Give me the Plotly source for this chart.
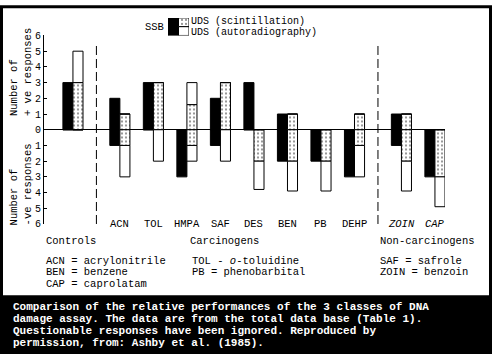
import plotly.graph_objects as go

# ---------------- data ----------------
categories = ["Controls", "ACN", "TOL", "HMPA", "SAF", "DES", "BEN", "PB", "DEHP", "ZOIN", "CAP"]
cat_labels = ["", "ACN", "TOL", "HMPA", "SAF", "DES", "BEN", "PB", "DEHP", "<i>ZOIN</i>", "<i>CAP</i>"]
groups = ["ctrl", "carc", "carc", "carc", "carc", "carc", "carc", "carc", "carc", "non", "non"]

ssb_pos = [3, 2, 3, 0, 2, 3, 1, 0, 0, 1, 0]
ssb_neg = [0, 1, 0, 3, 1, 0, 2, 2, 3, 1, 3]
uds_scint_pos = [3, 1, 3, 1.6, 3, 0, 1, 0, 1, 1, 0]
uds_auto_pos = [2, 0, 0, 1.4, 0, 0, 0, 0, 0, 0, 0]      # segment stacked above scintillation
uds_scint_neg = [0, 1, 0, 1, 0, 2, 2, 2, 1, 2, 3]
uds_auto_neg = [0, 2, 2, 1, 2, 1.8, 1.9, 1.9, 2, 1.9, 1.9]  # segment stacked below scintillation

y_ticks = [-6, -5, -4, -3, -2, -1, 0, 1, 2, 3, 4, 5, 6]

caption_lines = [
    "Comparison of the relative performances of the 3 classes of DNA",
    "damage assay. The data are from the total data base (Table 1).",
    "Questionable responses have been ignored. Reproduced by",
    "permission, from: Ashby et al. (1985).",
]

# ---------------- layout helpers ----------------
W, H = 492, 357
ML, MR, MT, MB = 44, 47, 8, 133
PW, PH = W - ML - MR, H - MT - MB
GAP = 0.4
BW = 0.3

pos = []
extra = 0.0
for i, g in enumerate(groups):
    if i > 0 and g != groups[i - 1]:
        extra += GAP
    pos.append(i + extra)

ssb_x = [p - BW / 2 for p in pos]
uds_x = [p + BW / 2 for p in pos]


def px(x):
    return (x - ML) / PW


def py(y):
    return (H - MB - y) / PH


FONT = "Liberation Mono"
line = dict(color="black", width=1)
dots = dict(shape=".", fgcolor="black", bgcolor="white", size=4, solidity=0.22)

fig = go.Figure()

# SSB
fig.add_trace(go.Bar(x=ssb_x, y=ssb_pos, base=0, width=BW,
                     marker=dict(color="black", line=line)))
fig.add_trace(go.Bar(x=ssb_x, y=[-v for v in ssb_neg], base=0, width=BW,
                     marker=dict(color="black", line=line)))
# UDS scintillation
fig.add_trace(go.Bar(x=uds_x, y=uds_scint_pos, base=0, width=BW,
                     marker=dict(color="white", line=line, pattern=dots)))
fig.add_trace(go.Bar(x=uds_x, y=[-v for v in uds_scint_neg], base=0, width=BW,
                     marker=dict(color="white", line=line, pattern=dots)))
# UDS autoradiography (stacked)
fig.add_trace(go.Bar(x=uds_x, y=uds_auto_pos, base=uds_scint_pos, width=BW,
                     marker=dict(color="white", line=line)))
fig.add_trace(go.Bar(x=uds_x, y=[-v for v in uds_auto_neg],
                     base=[-v for v in uds_scint_neg], width=BW,
                     marker=dict(color="white", line=line)))

# legend swatches on a small auxiliary axis
fig.add_trace(go.Bar(x=[0], y=[2], base=[0], width=1, xaxis="x2", yaxis="y2",
                     marker=dict(color="black", line=line)))
fig.add_trace(go.Bar(x=[1], y=[1], base=[1], width=1, xaxis="x2", yaxis="y2",
                     marker=dict(color="white", line=line, pattern=dots)))
fig.add_trace(go.Bar(x=[1], y=[1], base=[0], width=1, xaxis="x2", yaxis="y2",
                     marker=dict(color="white", line=line)))

x_lo = -29 / 33.57
x_hi = pos[-1] + BW
top_dom = py(31)

fig.update_layout(
    width=W, height=H,
    margin=dict(l=ML, r=MR, t=MT, b=MB, pad=0),
    paper_bgcolor="white", plot_bgcolor="rgba(0,0,0,0)",
    barmode="overlay", showlegend=False,
    font=dict(family=FONT, size=10, color="black"),
    xaxis=dict(range=[x_lo, x_hi], visible=False, domain=[0, 1]),
    yaxis=dict(range=[-6, 6], domain=[0, top_dom],
               tickvals=y_ticks, ticktext=[str(abs(v)) for v in y_ticks],
               ticks="inside", ticklen=3, tickcolor="black", tickwidth=1,
               showline=True, linecolor="black", linewidth=1,
               showgrid=False, zeroline=True, zerolinecolor="black", zerolinewidth=1,
               tickfont=dict(family=FONT, size=10, color="black")),
    xaxis2=dict(domain=[px(168), px(189)], range=[-0.5, 1.5], visible=False,
                anchor="y2"),
    yaxis2=dict(domain=[py(31), py(13)], range=[0, 2], visible=False,
                anchor="x2"),
)

shapes = []
# dashed dividers
for i in range(1, len(groups)):
    if groups[i] != groups[i - 1]:
        xm = (pos[i] + pos[i - 1]) / 2
        shapes.append(dict(type="line", xref="x", yref="y", x0=xm, x1=xm, y0=-6, y1=5.4,
                           line=dict(color="black", width=1, dash="9px,4px")))
# caption band
shapes.append(dict(type="rect", xref="paper", yref="paper",
                   x0=px(0), x1=px(W), y0=py(H), y1=py(297),
                   fillcolor="black", line=dict(width=0), layer="below"))
# outer frame
shapes.append(dict(type="rect", xref="paper", yref="paper",
                   x0=px(1.5), x1=px(W - 1.5), y0=py(H - 1.5), y1=py(1.5),
                   fillcolor="rgba(0,0,0,0)", line=dict(color="black", width=3)))
fig.update_layout(shapes=shapes)

ann = []
# category labels
for p, lab in zip(pos, cat_labels):
    if lab:
        ann.append(dict(x=p, y=-6, xref="x", yref="y", text=lab, showarrow=False,
                        xanchor="center", yanchor="middle",
                        font=dict(family=FONT, size=10.5, color="black")))


def txt(x, y, t, size=10.5, xanchor="left", color="black", bold=False, angle=0,
        yanchor="middle", pad=1):
    if bold:
        t = "<b>" + t + "</b>"
    ann.append(dict(x=px(x), y=py(y), xref="paper", yref="paper", text=t, showarrow=False,
                    xanchor=xanchor, yanchor=yanchor, textangle=angle, borderpad=pad,
                    font=dict(family=FONT, size=size, color=color)))


# group labels
txt(44, 241, "Controls")
txt(188, 241, "Carcinogens")
txt(378, 241, "Non-carcinogens")
# abbreviations
txt(44, 262, "ACN = acrylonitrile")
txt(44, 273, "BEN = benzene")
txt(44, 285, "CAP = caprolatam")
txt(190, 262, "TOL - <i>o</i>-toluidine")
txt(190, 273, "PB = phenobarbital")
txt(378, 262, "SAF = safrole")
txt(378, 273, "ZOIN = benzoin")
# legend
txt(166, 22, "SSB", xanchor="right")
txt(190, 16.3, "UDS (scintillation)", size=10, pad=0)
txt(190, 27.8, "UDS (autoradiography)", size=10, pad=0)
# y-axis titles
txt(14, 116, "Number of", angle=-90, xanchor="center", yanchor="bottom")
txt(27.5, 116, "+ ve responses", angle=-90, xanchor="center", yanchor="bottom")
txt(14, 228, "Number of", angle=-90, xanchor="center", yanchor="bottom")
txt(27.5, 228, "-ve responses", angle=-90, xanchor="center", yanchor="bottom")
# caption
for k, l in enumerate(caption_lines):
    txt(12, 308.5 + 12.4 * k, l, size=11, color="white", bold=True, pad=0)

fig.update_layout(annotations=ann)
fig.write_html("out.html", config={"displayModeBar": False},
               post_script="document.body.style.margin='0';document.body.style.padding='0';")
